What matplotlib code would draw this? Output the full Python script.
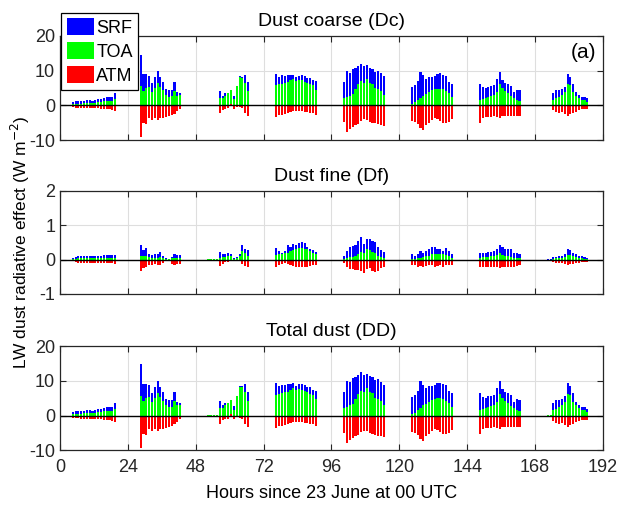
import numpy as np
import matplotlib
matplotlib.use('Agg')
import matplotlib.pyplot as plt

plt.rcParams['font.family'] = ['Liberation Sans', 'DejaVu Sans']
plt.rcParams['axes.unicode_minus'] = False

# hour of each bar (daytime hours of each of the 8 days)
hours = np.concatenate([
    np.arange(4.5, 20, 1),      # day 1
    np.arange(28.5, 43, 1),     # day 2
    np.arange(52.5, 67, 1),     # day 3
    np.arange(76.5, 91, 1),     # day 4
    np.arange(100.5, 115, 1),   # day 5
    np.arange(124.5, 139, 1),   # day 6
    np.arange(148.5, 163, 1),   # day 7
    np.arange(172.5, 187, 1),   # day 8
])

# Dust coarse (Dc)
dc_srf = [1.0, 1.1, 1.2, 1.2, 1.3, 1.4, 1.4, 1.3, 1.5, 1.7, 1.9, 2.2, 2.4, 2.4, 2.3, 3.6,
          14.5, 8.9, 8.9, 8.5, 6.4, 8.0, 9.8, 8.0, 6.8, 4.7, 4.4, 4.5, 6.6, 3.9, 3.6,
          0.15, 0.15, 0.15, 0.15, 4.0, 2.8, 3.5, 3.5, 4.4, 2.7, 5.5, 8.3, 8.0, 8.7, 6.6,
          9.0, 8.2, 8.7, 8.5, 8.6, 8.6, 8.8, 8.1, 8.5, 8.6, 8.3, 7.8, 7.8, 7.2, 6.9,
          6.7, 9.8, 9.3, 10.3, 10.7, 11.3, 11.8, 11.2, 11.5, 10.7, 10.5, 9.7, 10.0, 9.3, 8.5,
          5.2, 5.7, 7.0, 9.7, 8.7, 7.7, 8.2, 8.2, 8.3, 9.0, 9.2, 8.7, 8.5, 6.8, 6.2,
          6.2, 5.2, 5.0, 5.3, 5.5, 5.8, 7.5, 9.5, 7.2, 6.5, 6.2, 5.5, 3.7, 4.5, 4.3,
          0.1, 0.1, 3.5, 4.3, 4.5, 4.7, 5.3, 9.0, 8.2, 6.2, 3.7, 3.0, 2.5, 2.3, 2.0]
dc_toa = [0.4, 0.5, 0.5, 0.5, 0.6, 0.6, 0.6, 0.6, 0.7, 0.8, 0.9, 1.1, 1.2, 1.3, 1.2, 1.8,
          5.6, 4.2, 5.0, 5.3, 3.8, 4.9, 6.3, 5.3, 4.3, 2.9, 2.5, 2.6, 4.0, 2.8, 2.9,
          0.1, 0.1, 0.1, 0.1, 2.2, 2.2, 2.8, 3.4, 4.5, 1.7, 5.5, 8.2, 7.9, 6.5, 4.1,
          5.8, 6.0, 6.2, 6.5, 6.7, 7.2, 7.5, 7.0, 7.2, 7.2, 6.8, 6.5, 6.0, 5.7, 4.5,
          2.2, 2.5, 2.8, 3.3, 4.7, 6.0, 6.9, 6.5, 7.5, 6.5, 6.2, 5.0, 4.8, 4.0, 3.0,
          0.5, 0.8, 1.5, 2.2, 2.8, 3.3, 3.8, 4.3, 4.7, 4.8, 4.8, 4.6, 4.2, 3.6, 2.3,
          1.5, 1.7, 2.0, 2.3, 2.7, 3.0, 3.8, 6.0, 5.0, 4.0, 3.5, 2.7, 2.2, 1.5, 1.3,
          0.05, 0.05, 1.5, 2.0, 2.5, 3.0, 3.8, 6.0, 5.8, 3.8, 2.8, 2.0, 1.5, 1.5, 1.0]
dc_atm = [-0.6, -0.7, -0.7, -0.8, -0.8, -0.8, -0.8, -0.8, -0.8, -0.9, -1.0, -1.1, -1.2, -1.2, -1.4, -1.7,
          -9.0, -5.0, -5.4, -3.8, -4.2, -3.8, -4.2, -3.8, -3.8, -3.5, -3.2, -2.9, -2.4, -1.7, -1.0,
          -0.05, -0.05, -0.05, -0.05, -2.2, -1.3, -1.0, -0.8, 0.5, -1.0, -0.5, -0.5, -0.8, -2.2, -3.0,
          -3.5, -2.8, -2.8, -2.5, -2.3, -2.0, -1.7, -1.7, -1.7, -1.7, -2.0, -2.0, -2.3, -2.3, -2.7,
          -4.8, -7.7, -6.7, -6.3, -5.7, -5.3, -4.5, -4.0, -4.3, -4.7, -5.0, -5.2, -5.5, -5.7, -6.0,
          -4.5, -4.8, -5.3, -6.5, -7.2, -5.7, -5.0, -4.2, -3.8, -4.0, -4.5, -5.0, -5.0, -4.8, -4.0,
          -5.0, -3.8, -3.5, -3.3, -3.3, -3.0, -3.5, -3.8, -3.2, -3.0, -3.2, -3.0, -3.2, -3.2, -3.2,
          -0.05, -0.05, -1.5, -2.0, -2.2, -2.0, -2.5, -3.0, -2.5, -2.3, -1.8, -1.5, -1.2, -1.2, -1.2]

# Dust fine (Df)
df_srf = [0.05, 0.09, 0.1, 0.1, 0.1, 0.1, 0.1, 0.1, 0.1, 0.1, 0.12, 0.13, 0.13, 0.13, 0.14, 0.13,
          0.42, 0.27, 0.34, 0.17, 0.13, 0.15, 0.17, 0.23, 0.10, 0.05, 0.03, 0.08, 0.17, 0.13, 0.13,
          0.02, 0.02, 0.02, 0.02, 0.22, 0.17, 0.17, 0.19, 0.16, 0.05, 0.07, 0.15, 0.44, 0.31, 0.29,
          0.34, 0.26, 0.2, 0.24, 0.42, 0.36, 0.46, 0.44, 0.49, 0.5, 0.48, 0.36, 0.32, 0.28, 0.22,
          0.1, 0.24, 0.36, 0.39, 0.44, 0.53, 0.66, 0.46, 0.6, 0.6, 0.53, 0.5, 0.36, 0.29, 0.22,
          0.15, 0.1, 0.17, 0.24, 0.19, 0.24, 0.32, 0.36, 0.37, 0.31, 0.3, 0.25, 0.34, 0.25, 0.15,
          0.2, 0.2, 0.2, 0.22, 0.22, 0.25, 0.3, 0.44, 0.36, 0.3, 0.3, 0.3, 0.18, 0.18, 0.15,
          0.01, 0.01, 0.08, 0.09, 0.1, 0.1, 0.15, 0.3, 0.28, 0.2, 0.15, 0.12, 0.1, 0.08, 0.04]
df_toa = [0.02, 0.03, 0.04, 0.04, 0.04, 0.04, 0.04, 0.04, 0.05, 0.05, 0.05, 0.06, 0.06, 0.06, 0.06, 0.06,
          0.1, 0.1, 0.1, 0.07, 0.06, 0.06, 0.06, 0.07, 0.04, 0.02, 0.01, 0.04, 0.06, 0.06, 0.06,
          0.01, 0.01, 0.01, 0.01, 0.06, 0.07, 0.08, 0.1, 0.12, 0.03, 0.05, 0.1, 0.25, 0.2, 0.1,
          0.14, 0.15, 0.16, 0.18, 0.2, 0.24, 0.28, 0.32, 0.35, 0.33, 0.32, 0.3, 0.25, 0.2, 0.15,
          0.03, 0.05, 0.07, 0.08, 0.1, 0.15, 0.22, 0.2, 0.3, 0.28, 0.22, 0.18, 0.1, 0.08, 0.05,
          0.02, 0.03, 0.04, 0.06, 0.08, 0.1, 0.12, 0.16, 0.17, 0.17, 0.15, 0.15, 0.13, 0.1, 0.06,
          0.06, 0.07, 0.08, 0.09, 0.1, 0.12, 0.14, 0.18, 0.14, 0.12, 0.1, 0.08, 0.06, 0.05, 0.04,
          0.0, 0.0, 0.03, 0.04, 0.05, 0.06, 0.08, 0.14, 0.13, 0.1, 0.08, 0.06, 0.04, 0.03, 0.02]
df_atm = [-0.05, -0.08, -0.09, -0.09, -0.09, -0.09, -0.09, -0.09, -0.09, -0.09, -0.1, -0.1, -0.1, -0.1, -0.11, -0.12,
          -0.32, -0.24, -0.21, -0.17, -0.15, -0.13, -0.15, -0.16, -0.11, -0.02, -0.02, -0.13, -0.15, -0.12, -0.12,
          -0.01, -0.01, -0.01, -0.01, -0.18, -0.12, -0.08, -0.06, -0.04, -0.02, -0.03, -0.05, -0.13, -0.18, -0.2,
          -0.2, -0.15, -0.12, -0.1, -0.12, -0.15, -0.18, -0.2, -0.2, -0.2, -0.2, -0.2, -0.18, -0.16, -0.15,
          -0.1, -0.2, -0.26, -0.27, -0.29, -0.29, -0.32, -0.39, -0.27, -0.25, -0.32, -0.36, -0.34, -0.25, -0.22,
          -0.15, -0.17, -0.2, -0.18, -0.22, -0.18, -0.15, -0.17, -0.2, -0.18, -0.17, -0.2, -0.17, -0.15, -0.15,
          -0.22, -0.22, -0.2, -0.2, -0.2, -0.2, -0.2, -0.23, -0.2, -0.2, -0.2, -0.2, -0.2, -0.18, -0.17,
          0.0, 0.0, -0.08, -0.1, -0.1, -0.1, -0.12, -0.15, -0.13, -0.12, -0.1, -0.1, -0.08, -0.08, -0.07]

# Total dust (DD)
dd_srf = [1.1, 1.2, 1.3, 1.3, 1.4, 1.5, 1.5, 1.4, 1.6, 1.8, 2.0, 2.3, 2.5, 2.5, 2.4, 3.7,
          14.9, 9.2, 9.2, 8.7, 6.5, 8.2, 10.0, 8.2, 6.9, 4.8, 4.4, 4.6, 6.8, 4.0, 3.7,
          0.2, 0.2, 0.2, 0.2, 4.2, 3.0, 3.7, 3.7, 4.6, 2.8, 5.6, 8.5, 8.4, 9.0, 6.9,
          9.3, 8.5, 8.9, 8.7, 9.0, 9.0, 9.3, 8.5, 9.0, 9.1, 8.8, 8.2, 8.1, 7.5, 7.1,
          6.8, 10.0, 9.7, 10.7, 11.1, 11.8, 12.5, 11.7, 12.1, 11.3, 11.0, 10.2, 10.4, 9.6, 8.7,
          5.4, 5.8, 7.2, 9.9, 8.9, 7.9, 8.5, 8.6, 8.7, 9.3, 9.5, 9.0, 8.8, 7.1, 6.4,
          6.4, 5.4, 5.2, 5.5, 5.7, 6.0, 7.8, 9.9, 7.6, 6.8, 6.5, 5.8, 3.9, 4.7, 4.5,
          0.1, 0.1, 3.6, 4.4, 4.6, 4.8, 5.5, 9.3, 8.5, 6.4, 3.9, 3.1, 2.6, 2.4, 2.0]
dd_toa = [0.4, 0.5, 0.5, 0.5, 0.6, 0.6, 0.6, 0.6, 0.8, 0.9, 1.0, 1.2, 1.3, 1.4, 1.3, 1.9,
          5.7, 4.3, 5.1, 5.4, 3.9, 5.0, 6.4, 5.4, 4.3, 2.9, 2.5, 2.6, 4.1, 2.9, 3.0,
          0.1, 0.1, 0.1, 0.1, 2.3, 2.3, 2.9, 3.5, 4.6, 1.7, 5.6, 8.3, 8.2, 6.7, 4.2,
          5.9, 6.2, 6.4, 6.7, 6.9, 7.4, 7.8, 7.3, 7.6, 7.5, 7.1, 6.8, 6.3, 5.9, 4.7,
          2.2, 2.6, 2.9, 3.4, 4.8, 6.2, 7.1, 6.7, 7.8, 6.8, 6.4, 5.2, 4.9, 4.1, 3.1,
          0.5, 0.8, 1.5, 2.3, 2.9, 3.4, 3.9, 4.5, 4.9, 5.0, 5.0, 4.8, 4.3, 3.7, 2.4,
          1.6, 1.8, 2.1, 2.4, 2.8, 3.1, 3.9, 6.2, 5.1, 4.1, 3.6, 2.8, 2.3, 1.6, 1.3,
          0.05, 0.05, 1.5, 2.0, 2.6, 3.1, 3.9, 6.1, 5.9, 3.9, 2.9, 2.1, 1.5, 1.5, 1.0]
dd_atm = [-0.7, -0.8, -0.8, -0.9, -0.9, -0.9, -0.9, -0.9, -0.9, -1.0, -1.1, -1.2, -1.3, -1.3, -1.5, -1.8,
          -9.3, -5.2, -5.6, -4.0, -4.4, -3.9, -4.4, -4.0, -3.9, -3.5, -3.3, -3.0, -2.5, -1.8, -1.1,
          -0.05, -0.05, -0.05, -0.05, -2.4, -1.4, -1.1, -0.9, 0.5, -1.0, -0.5, -0.6, -0.9, -2.4, -3.2,
          -3.7, -3.0, -2.9, -2.6, -2.4, -2.2, -1.9, -1.9, -1.9, -1.9, -2.2, -2.2, -2.5, -2.5, -2.9,
          -4.9, -7.9, -7.0, -6.6, -6.0, -5.6, -4.8, -4.4, -4.6, -5.0, -5.3, -5.6, -5.8, -6.0, -6.2,
          -4.7, -5.0, -5.5, -6.7, -7.4, -5.9, -5.2, -4.4, -4.0, -4.2, -4.7, -5.2, -5.2, -5.0, -4.2,
          -5.2, -4.0, -3.7, -3.5, -3.5, -3.2, -3.7, -4.0, -3.4, -3.2, -3.4, -3.2, -3.4, -3.4, -3.4,
          -0.05, -0.05, -1.6, -2.1, -2.3, -2.1, -2.6, -3.2, -2.6, -2.4, -1.9, -1.6, -1.3, -1.3, -1.3]

titles = ['Dust coarse (Dc)', 'Dust fine (Df)', 'Total dust (DD)']
ylims = [(-10, 20), (-1, 2), (-10, 20)]
yticks = [[-10, 0, 10, 20], [-1, 0, 1, 2], [-10, 0, 10, 20]]
xticks = np.arange(0, 193, 24)

fig = plt.figure(figsize=(6.24, 5.11), dpi=100)
boxes = [[0.0962, 0.726, 0.870, 0.204],
         [0.0962, 0.4247, 0.870, 0.2016],
         [0.0962, 0.119, 0.870, 0.2035]]

panels = [(dc_srf, dc_toa, dc_atm), (df_srf, df_toa, df_atm), (dd_srf, dd_toa, dd_atm)]
for i, (srf, toa, atm) in enumerate(panels):
    ax = fig.add_axes(boxes[i])
    b1 = ax.bar(hours, srf, width=0.75, color=(0, 0, 1), linewidth=0, label='SRF')
    b2 = ax.bar(hours, toa, width=0.75, color=(0, 1, 0), linewidth=0, label='TOA')
    b3 = ax.bar(hours, atm, width=0.75, color=(1, 0, 0), linewidth=0, label='ATM')
    ax.axhline(0, color='k', lw=1)
    ax.set_xlim(0, 192)
    ax.set_ylim(*ylims[i])
    ax.set_yticks(yticks[i])
    ax.set_xticks(xticks)
    ax.set_axisbelow(True)
    ax.grid(True, color=(0.87, 0.87, 0.87), lw=0.8)
    ax.tick_params(direction='in', top=True, right=True, length=4, width=0.8,
                   labelsize=13, colors=(0.15, 0.15, 0.15), labelcolor=(0.15, 0.15, 0.15))
    ax.tick_params(axis='x', pad=6)
    for s in ax.spines.values():
        s.set_color((0.15, 0.15, 0.15))
        s.set_linewidth(0.9)
    ax.set_title(titles[i], fontsize=14, pad=7)
    if i == 0:
        ax.text(0.988, 0.93, '(a)', transform=ax.transAxes, ha='right', va='top', fontsize=15)
        handles = [b1, b2, b3]
    if i < 2:
        ax.tick_params(axis='x', labelbottom=False)
    else:
        ax.set_xlabel('Hours since 23 June at 00 UTC', fontsize=13, labelpad=7)

fig.text(0.032, 0.5254, 'LW dust radiative effect (W m$^{-2}$)', rotation=90,
         ha='center', va='center', fontsize=12.5)

leg = fig.legend(handles=handles, loc='upper left', bbox_to_anchor=(0.098, 0.975),
                 fontsize=13, handlelength=1.5, handleheight=1.05, labelspacing=0.3,
                 handletextpad=0.15, borderpad=0.3, borderaxespad=0, fancybox=False,
                 framealpha=1, edgecolor='k')
leg.get_frame().set_linewidth(0.9)

fig.savefig('out.png', dpi=100)
